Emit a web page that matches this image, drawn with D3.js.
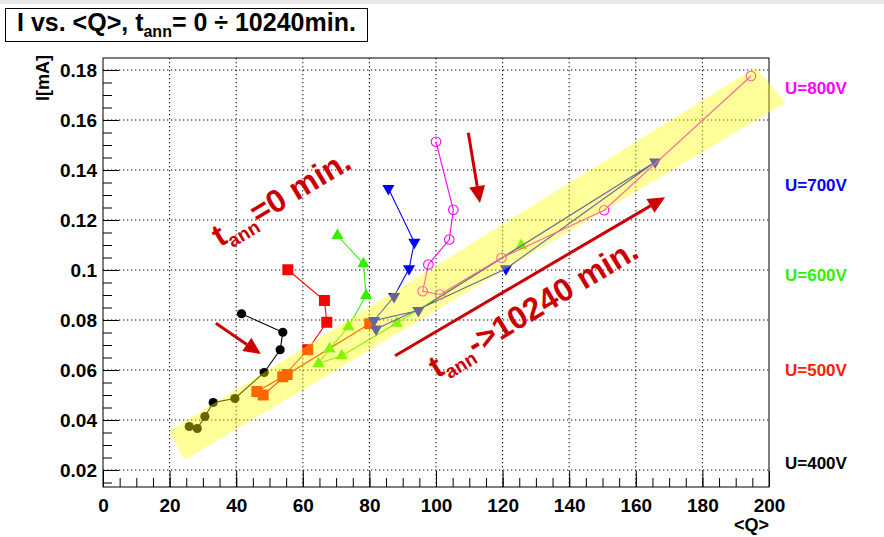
<!DOCTYPE html>
<html>
<head>
<meta charset="utf-8">
<script src="https://cdn.jsdelivr.net/npm/d3@7"></script>
<style>
  body { margin: 0; background: #fff; }
  text { font-family: "Liberation Sans", Arial, Helvetica, sans-serif; font-weight: bold; }
</style>
</head>
<body>
<svg id="chart" width="884" height="537"></svg>
<script>
// Leakage current vs. mean charge for each bias voltage, annealing 0 ... 10240 min
const q400 = [41.6, 54.0, 53.2, 48.4, 39.6, 33.1, 30.6, 28.3, 25.9];
const i400 = [0.0825, 0.0751, 0.0681, 0.0590, 0.0486, 0.0470, 0.0414, 0.0366, 0.0374];

const q500 = [55.5, 66.5, 67.2, 61.5, 54.0, 46.2, 48.1, 55.3, 80.1];
const i500 = [0.1001, 0.0878, 0.0791, 0.0681, 0.0573, 0.0514, 0.0500, 0.0582, 0.0785];

const q600 = [70.4, 78.2, 79.0, 73.7, 68.0, 64.7, 71.7, 88.2, 125.6];
const i600 = [0.1138, 0.1025, 0.0898, 0.0773, 0.0684, 0.0626, 0.0657, 0.0787, 0.1098];

const q700 = [85.7, 93.5, 91.9, 87.4, 81.4, 94.7, 165.8, 121.0, 82.0];
const i700 = [0.1326, 0.1111, 0.1005, 0.0894, 0.0798, 0.0838, 0.1432, 0.1005, 0.0764];

const q800 = [100.0, 105.2, 104.0, 97.7, 96.0, 101.2, 119.7, 150.5, 194.6];
const i800 = [0.1513, 0.1241, 0.1122, 0.1022, 0.0915, 0.0902, 0.1049, 0.1239, 0.1776];

const voltageLabels = ["U=800V", "U=700V", "U=600V", "U=500V", "U=400V"];
const xTicks = [0, 20, 40, 60, 80, 100, 120, 140, 160, 180, 200];
const yTicks = [0.02, 0.04, 0.06, 0.08, 0.1, 0.12, 0.14, 0.16, 0.18];

// band of the annealed (10240 min) trend, as polygon corners [Q, I]
const bandQ = [24.5, 19.8, 196.0, 205.0];
const bandI = [0.0240, 0.0355, 0.1810, 0.1670];

const svg = d3.select("#chart");
const W = 884, H = 537;
const frame = { left: 103, right: 769, top: 58, bottom: 487 };

const x = d3.scaleLinear().domain([0, 200]).range([frame.left, frame.right]);
const y = d3.scaleLinear().domain([0.0132, 0.1848]).range([frame.bottom, frame.top]);

svg.append("rect").attr("width", W).attr("height", H).attr("fill", "#fff");
svg.append("rect").attr("width", W).attr("height", 4).attr("fill", "#e8e8e8");

// dotted grid
const grid = svg.append("g");
xTicks.slice(1, -1).forEach(v => {
  grid.append("line").attr("x1", x(v)).attr("x2", x(v))
    .attr("y1", frame.top).attr("y2", frame.bottom)
    .attr("stroke", "#000").attr("stroke-width", 1).attr("stroke-dasharray", "1.3,2.7");
});
yTicks.forEach(v => {
  grid.append("line").attr("x1", frame.left).attr("x2", frame.right)
    .attr("y1", y(v)).attr("y2", y(v))
    .attr("stroke", "#000").attr("stroke-width", 1).attr("stroke-dasharray", "1.3,2.7");
});

// axes with inward ticks
const xMinor = d3.range(0, 200.1, 5);
const yMinor = d3.range(0.015, 0.1849, 0.005);

const gx = svg.append("g").attr("transform", `translate(0,${frame.bottom})`)
  .call(d3.axisBottom(x).tickValues(xTicks).tickSize(-16).tickPadding(12).tickFormat(d => String(d)));
svg.append("g").attr("transform", `translate(0,${frame.bottom})`)
  .call(d3.axisBottom(x).tickValues(xMinor).tickSize(-9).tickFormat(""))
  .call(g => g.select(".domain").remove());

const gy = svg.append("g").attr("transform", `translate(${frame.left},0)`)
  .call(d3.axisLeft(y).tickValues(yTicks).tickSize(-16).tickPadding(6).tickFormat(d => String(d)));
svg.append("g").attr("transform", `translate(${frame.left},0)`)
  .call(d3.axisLeft(y).tickValues(yMinor).tickSize(-9).tickFormat(""))
  .call(g => g.select(".domain").remove());

[gx, gy].forEach(g => {
  g.selectAll("text").attr("font-size", 19).attr("fill", "#000")
    .attr("font-family", "'Liberation Sans', Arial, sans-serif").attr("font-weight", "bold");
  g.selectAll("line").attr("stroke", "#000");
  g.select(".domain").remove();
});

// frame
svg.append("rect").attr("x", frame.left).attr("y", frame.top)
  .attr("width", frame.right - frame.left).attr("height", frame.bottom - frame.top)
  .attr("fill", "none").attr("stroke", "#000").attr("stroke-width", 1);

// series
const series = [
  { q: q400, i: i400, color: "#000000", marker: "circle" },
  { q: q500, i: i500, color: "#ff0000", marker: "square" },
  { q: q600, i: i600, color: "#33ee00", marker: "up" },
  { q: q700, i: i700, color: "#0000ff", marker: "down" },
  { q: q800, i: i800, color: "#ff00ff", marker: "open" }
];

const line = d3.line().x(d => x(d[0])).y(d => y(d[1]));
const plot = svg.append("g");
series.forEach(s => {
  const pts = s.q.map((v, k) => [v, s.i[k]]);
  plot.append("path").attr("d", line(pts)).attr("fill", "none")
    .attr("stroke", s.color).attr("stroke-width", 1.1);
  const g = plot.append("g");
  pts.forEach(p => {
    const cx = x(p[0]), cy = y(p[1]);
    if (s.marker === "circle") {
      g.append("circle").attr("cx", cx).attr("cy", cy).attr("r", 4.6).attr("fill", s.color);
    } else if (s.marker === "open") {
      g.append("circle").attr("cx", cx).attr("cy", cy).attr("r", 4.8)
        .attr("fill", "none").attr("stroke", s.color).attr("stroke-width", 1.1);
    } else if (s.marker === "square") {
      g.append("path").attr("d", d3.symbol(d3.symbolSquare, 121)())
        .attr("transform", `translate(${cx},${cy})`).attr("fill", s.color);
    } else {
      const rot = s.marker === "down" ? 180 : 0;
      g.append("path").attr("d", d3.symbol(d3.symbolTriangle, 64)())
        .attr("transform", `translate(${cx},${cy}) rotate(${rot})`).attr("fill", s.color);
    }
  });
});

// translucent trend band over the points
svg.append("polygon")
  .attr("points", bandQ.map((v, k) => `${x(v)},${y(bandI[k])}`).join(" "))
  .attr("fill", "#ffff00").attr("fill-opacity", 0.4).attr("stroke", "none");

// arrows
const arrowColor = "#cc0000";
function arrow(q1, i1, q2, i2) {
  const x1 = x(q1), y1 = y(i1), x2 = x(q2), y2 = y(i2);
  const a = Math.atan2(y2 - y1, x2 - x1);
  const L = 17, Wd = 8;
  const bx = x2 - L * Math.cos(a), by = y2 - L * Math.sin(a);
  svg.append("line").attr("x1", x1).attr("y1", y1).attr("x2", bx).attr("y2", by)
    .attr("stroke", arrowColor).attr("stroke-width", 3);
  const p1 = [bx + Wd * Math.sin(a), by - Wd * Math.cos(a)];
  const p2 = [bx - Wd * Math.sin(a), by + Wd * Math.cos(a)];
  svg.append("polygon").attr("points", `${x2},${y2} ${p1} ${p2}`).attr("fill", arrowColor);
}
arrow(33.9, 0.0787, 47.4, 0.0664);
arrow(109.7, 0.1549, 113.2, 0.1268);
arrow(87.7, 0.0657, 168.8, 0.1291);

// rotated annotations
function note(q, i, angle, rest) {
  const t = svg.append("text").attr("transform", `translate(${x(q)},${y(i)}) rotate(${angle})`)
    .attr("fill", arrowColor).attr("font-size", 32);
  t.append("tspan").text("t");
  t.append("tspan").attr("font-size", 19).attr("dy", 7).text("ann");
  t.append("tspan").attr("dy", -7).text(rest);
}
note(35.1, 0.1090, -31, "=0 min.");
note(100.3, 0.0565, -31, "->10240 min.");

// voltage labels on the right
const labelColors = ["#ff00ff", "#0000ff", "#33ee00", "#ff2000", "#000000"];
const labelY = [88, 185, 275, 370, 463];
voltageLabels.forEach((lab, k) => {
  svg.append("text").attr("x", 785).attr("y", labelY[k]).attr("dy", "0.35em")
    .attr("font-size", 17).attr("fill", labelColors[k]).text(lab);
});

// axis titles
svg.append("text").attr("transform", `translate(49,55) rotate(-90)`)
  .attr("text-anchor", "end").attr("font-size", 18).text("I[mA]");
svg.append("text").attr("x", 769).attr("y", 531).attr("text-anchor", "end")
  .attr("font-size", 18).text("<Q>");

// title box
svg.append("rect").attr("x", 5.5).attr("y", 8.5).attr("width", 362).attr("height", 33)
  .attr("fill", "#fff").attr("stroke", "#000").attr("stroke-width", 1);
const title = svg.append("text").attr("x", 17).attr("y", 31).attr("font-size", 25);
title.append("tspan").text("I vs. <Q>, t");
title.append("tspan").attr("font-size", 16).attr("dy", 6).text("ann");
title.append("tspan").attr("dy", -6).text("= 0 \u00f7 10240min.");
</script>
</body>
</html>
